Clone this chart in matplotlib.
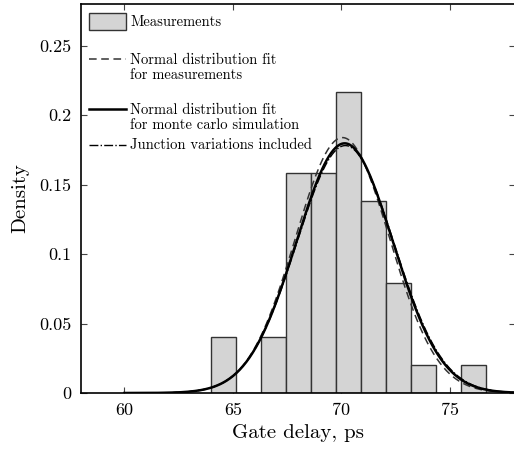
"""
Gate delay histogram with normal distribution fits.
"""

import numpy as np
import matplotlib

matplotlib.use("Agg")
import matplotlib.pyplot as plt
from matplotlib.patches import Rectangle

# histogram
bin_edges = [64.0, 65.15, 66.3, 67.45, 68.6, 69.75, 70.9, 72.05, 73.2, 74.35, 75.5, 76.65]
bin_density = [0.04, 0.0, 0.04, 0.158, 0.158, 0.217, 0.138, 0.079, 0.02, 0.0, 0.02]

# fitted normal distributions (mean, sigma)
fit_measurements = (70.05, 2.17)
fit_monte_carlo = (70.15, 2.22)
fit_junction = (70.18, 2.24)

x_ticks = [60, 65, 70, 75]
y_ticks = [0, 0.05, 0.1, 0.15, 0.2, 0.25]
y_tick_labels = ["0", "0.05", "0.1", "0.15", "0.2", "0.25"]

legend_labels = [
    "Measurements",
    "Normal distribution fit\nfor measurements",
    "Normal distribution fit\nfor monte carlo simulation",
    "Junction variations included",
]


def normal_pdf(x, mean, sigma):
    return np.exp(-0.5 * ((x - mean) / sigma) ** 2) / (sigma * np.sqrt(2 * np.pi))


plt.rcParams["font.family"] = ["cmr10", "DejaVu Serif"]
plt.rcParams["mathtext.fontset"] = "cm"
plt.rcParams["axes.formatter.use_mathtext"] = True

fig = plt.figure(figsize=(5.14, 4.49), dpi=100)
ax = fig.add_axes([81 / 514, 1 - 393 / 449, 434 / 514, 389 / 449])

edges = np.array(bin_edges)
ax.bar(edges[:-1], bin_density, width=np.diff(edges), align="edge",
       color="#d4d4d4", edgecolor="#333333", linewidth=1.0, zorder=2)

xs = np.linspace(60, 80, 400)
ax.plot(xs, normal_pdf(xs, *fit_measurements), color="#333333",
        linestyle=(0, (5, 3)), linewidth=1.1, zorder=3)
ax.plot(xs, normal_pdf(xs, *fit_junction), color="black",
        linestyle="-.", linewidth=1.0, zorder=3)
ax.plot(xs, normal_pdf(xs, *fit_monte_carlo), color="black",
        linewidth=1.8, zorder=4)

ax.set_xlim(58, 78)
ax.set_ylim(0, 0.28)
ax.set_xticks(x_ticks)
ax.set_xticklabels([str(t) for t in x_ticks])
ax.set_yticks(y_ticks)
ax.set_yticklabels(y_tick_labels)
ax.tick_params(direction="in", length=4, width=0.8, labelsize=13,
               top=True, right=True, pad=7, color="#444444")
for spine in ax.spines.values():
    spine.set_linewidth(1.2)

ax.set_xlabel("Gate delay, ps", fontsize=15, labelpad=4)
ax.set_ylabel("Density", fontsize=15, labelpad=7)

# legend drawn by hand so handles sit on the first line of each label
tr = ax.transAxes
hx0, hx1, tx = 0.018, 0.104, 0.113
ax.add_patch(Rectangle((hx0, 0.933), hx1 - hx0, 0.044, transform=tr,
                       facecolor="#d4d4d4", edgecolor="#333333", linewidth=1.0,
                       zorder=5))
ax.plot([hx0, hx1], [0.858, 0.858], transform=tr, color="#333333",
        linestyle=(0, (5, 3)), linewidth=1.1, zorder=5)
ax.plot([hx0, hx1], [0.729, 0.729], transform=tr, color="black",
        linewidth=1.8, zorder=5)
ax.plot([hx0, hx1], [0.638, 0.638], transform=tr, color="black",
        linestyle="-.", linewidth=1.0, zorder=5)

text_rows = [0.952, 0.856, 0.727, 0.637]
for label, row in zip(legend_labels, text_rows):
    ax.text(tx, row + 0.018, label, transform=tr, fontsize=10.5, va="top",
            linespacing=1.15, zorder=5)

fig.savefig("out.png", dpi=100)
